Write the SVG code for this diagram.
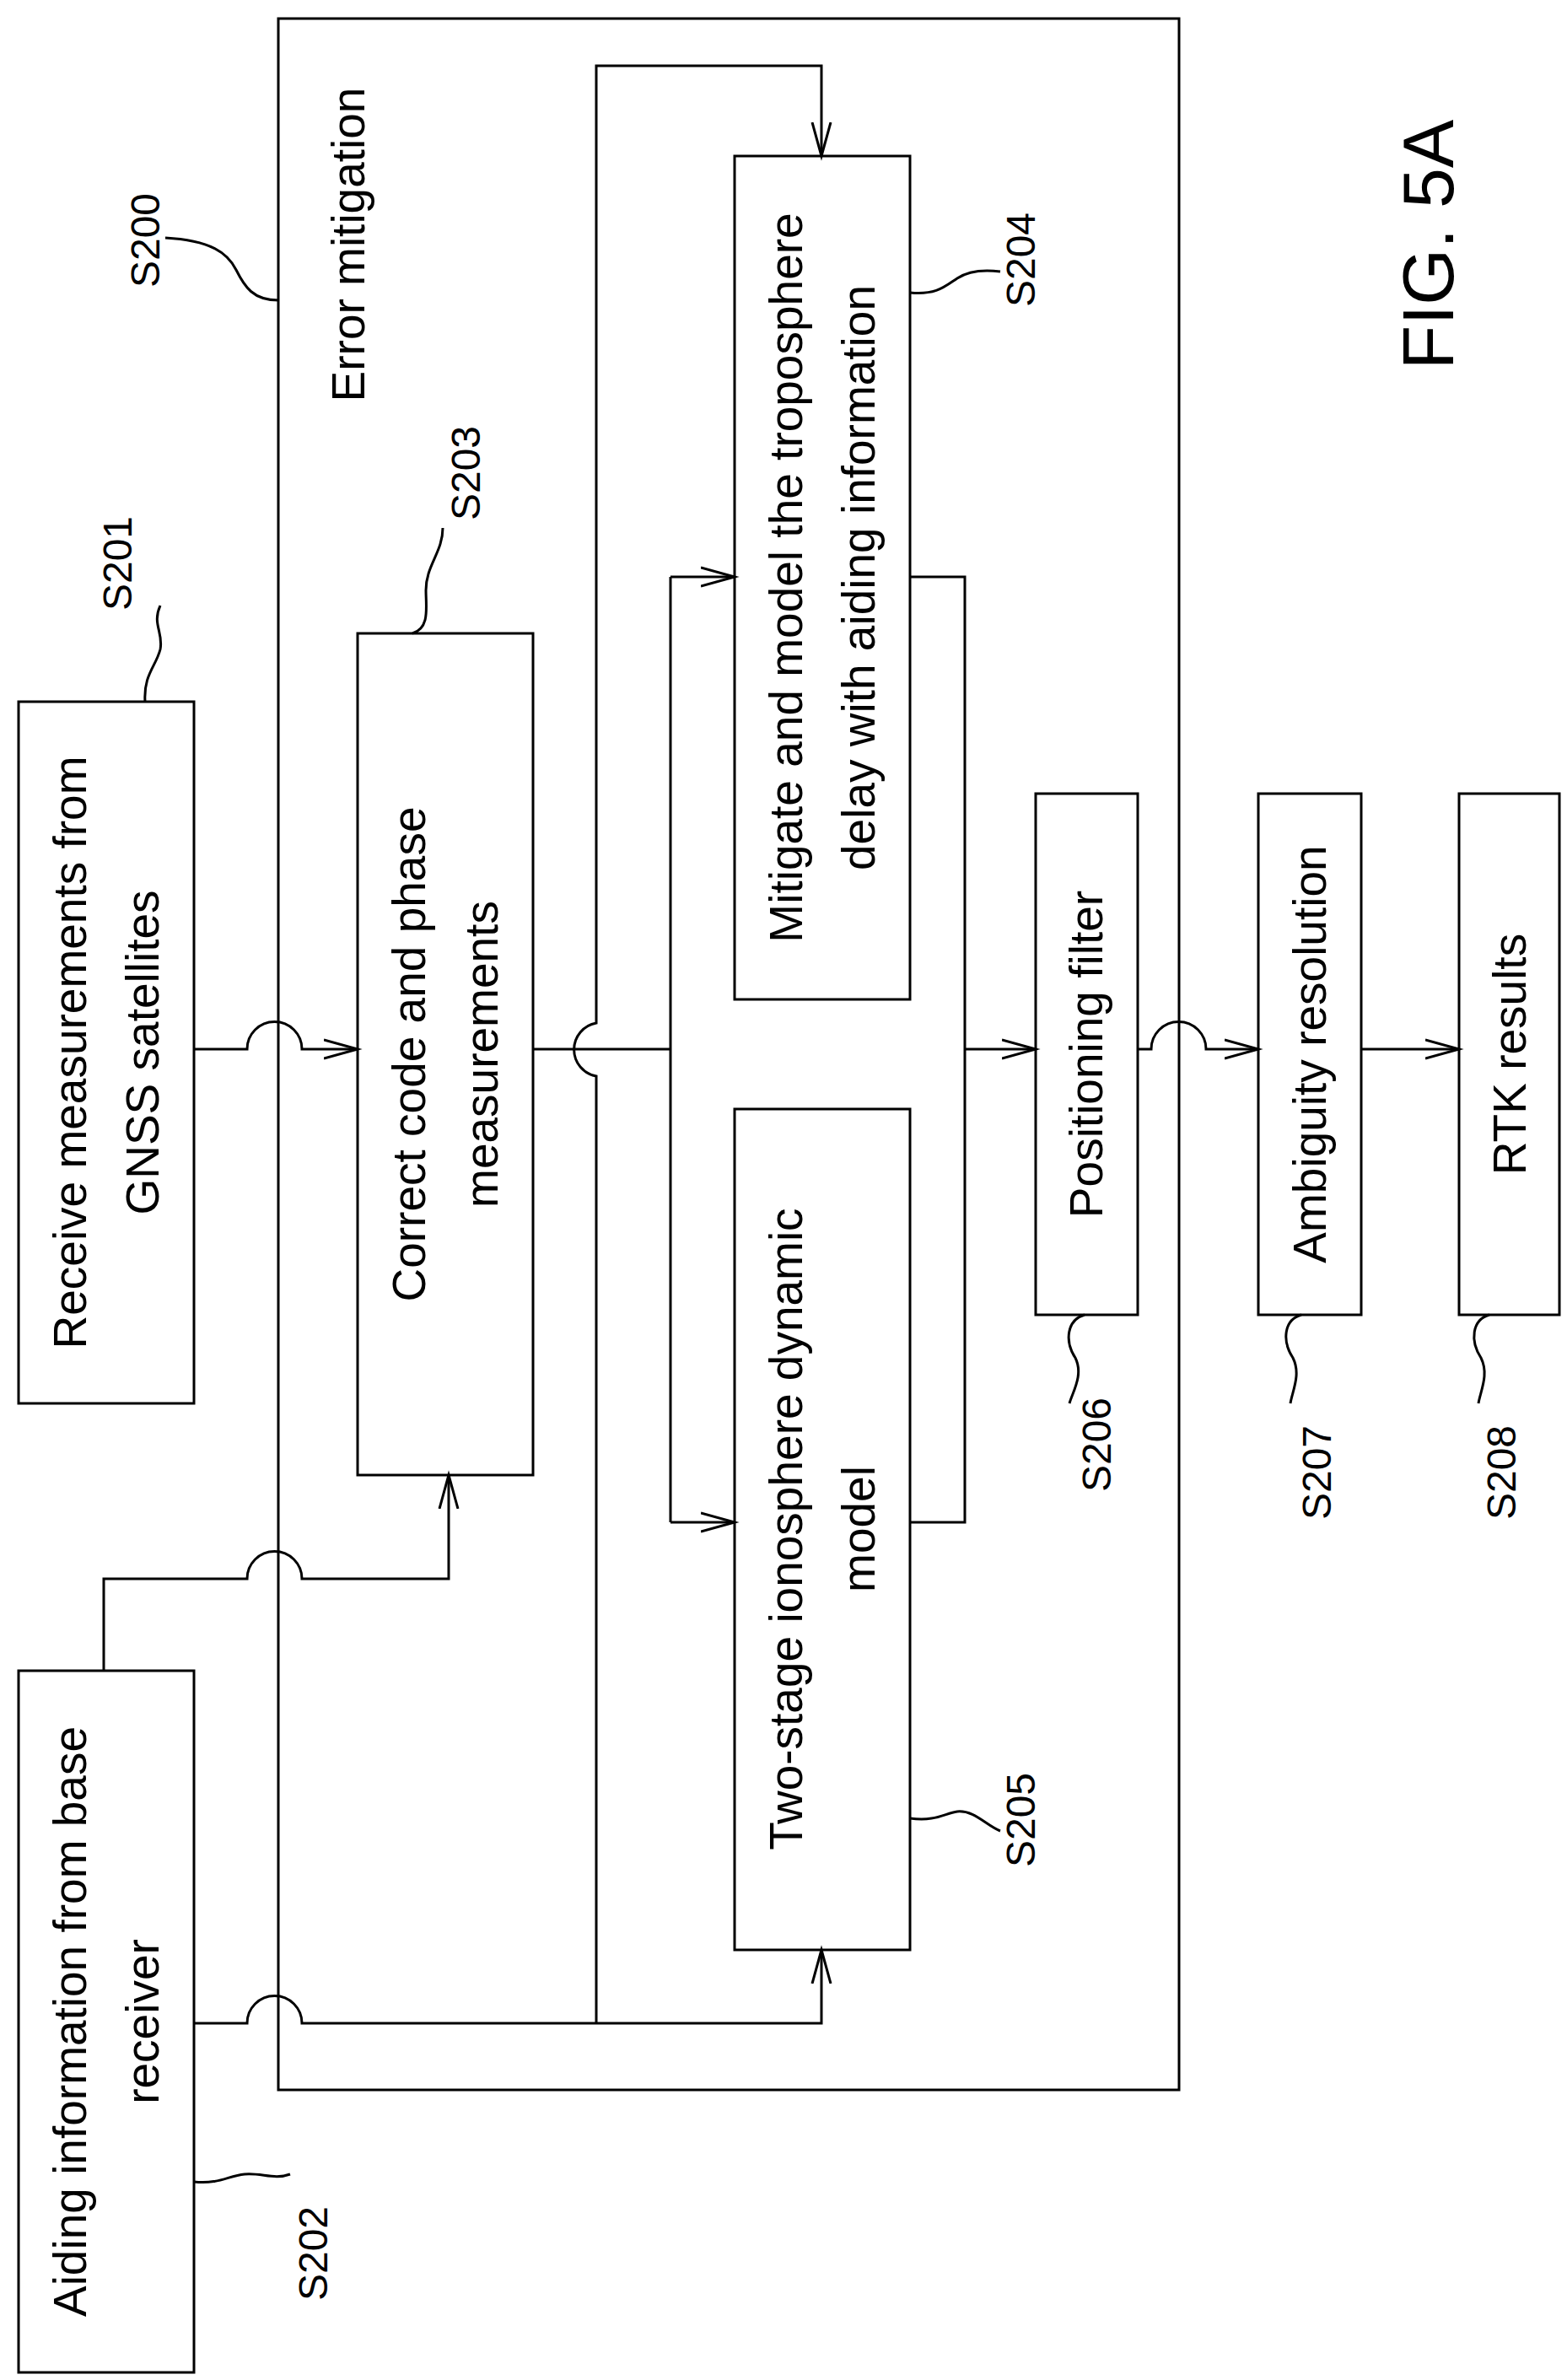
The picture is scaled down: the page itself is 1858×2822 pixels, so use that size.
<svg xmlns="http://www.w3.org/2000/svg" width="1858" height="2822" viewBox="0 0 1858 2822">
<style>
rect,path,line{fill:none;stroke:#000;stroke-width:3}
text{font-family:"Liberation Sans",Arial,sans-serif;font-size:55px;text-anchor:middle;dominant-baseline:central;fill:#000}
.lb{font-size:48px}
</style>
<defs>
<marker id="a" markerUnits="userSpaceOnUse" markerWidth="50" markerHeight="30" refX="40" refY="12" orient="auto" viewBox="0 0 50 24">
<path d="M0,1 L40,12 L0,23" style="stroke-width:3"/>
</marker>
</defs>
<rect width="1858" height="2822" style="fill:#fff;stroke:none"/>
<g id="S200"><rect x="330" y="22" width="1068" height="2456"/>
<text transform="translate(413,290) rotate(-90)">Error mitigation</text></g>
<g id="S201"><rect x="22" y="832" width="208" height="832"/>
<text transform="translate(126,1248) rotate(-90)"><tspan x="0" y="-43">Receive measurements from</tspan><tspan x="0" y="43">GNSS satellites</tspan></text></g>
<g id="S202"><rect x="22" y="1981" width="208" height="832"/>
<text transform="translate(126,2397) rotate(-90)"><tspan x="0" y="-43">Aiding information from base</tspan><tspan x="0" y="43">receiver</tspan></text></g>
<g id="S203"><rect x="424" y="751" width="208" height="998"/>
<text transform="translate(528,1250) rotate(-90)"><tspan x="0" y="-43">Correct code and phase</tspan><tspan x="0" y="43">measurements</tspan></text></g>
<g id="S204"><rect x="871" y="185" width="208" height="1000"/>
<text transform="translate(975,685) rotate(-90)"><tspan x="0" y="-43">Mitigate and model the troposphere</tspan><tspan x="0" y="43">delay with aiding information</tspan></text></g>
<g id="S205"><rect x="871" y="1315" width="208" height="997"/>
<text transform="translate(975,1813) rotate(-90)"><tspan x="0" y="-43">Two-stage ionosphere dynamic</tspan><tspan x="0" y="43">model</tspan></text></g>
<g id="S206"><rect x="1228" y="941" width="121" height="618"/>
<text transform="translate(1288,1250) rotate(-90)">Positioning filter</text></g>
<g id="S207"><rect x="1492" y="941" width="122" height="618"/>
<text transform="translate(1553,1250) rotate(-90)">Ambiguity resolution</text></g>
<g id="S208"><rect x="1730" y="941" width="119" height="618"/>
<text transform="translate(1790,1250) rotate(-90)">RTK results</text></g>
<g id="labels">
<text class="lb" transform="translate(172,285) rotate(-90)">S200</text>
<path d="M330,356 C300,356 290,340 280,320 C270,300 250,285 196,282"/>
<text class="lb" transform="translate(139,668) rotate(-90)">S201</text>
<path d="M172,832 C170,800 185,790 190,770 C194,750 180,740 190,718"/>
<text class="lb" transform="translate(371,2672) rotate(-90)">S202</text>
<path d="M230,2587 C260,2590 270,2580 290,2578 C310,2576 325,2585 344,2578"/>
<text class="lb" transform="translate(552,561) rotate(-90)">S203</text>
<path d="M489,751 C510,745 505,720 505,700 C505,670 525,655 525,626"/>
<text class="lb" transform="translate(1210,308) rotate(-90)">S204</text>
<path d="M1079,347 C1110,350 1120,340 1135,330 C1150,320 1170,320 1186,322"/>
<text class="lb" transform="translate(1210,2158) rotate(-90)">S205</text>
<path d="M1079,2156 C1110,2160 1120,2150 1135,2148 C1155,2146 1170,2165 1186,2171"/>
<text class="lb" transform="translate(1300,1713) rotate(-90)">S206</text>
<path d="M1286,1559 C1265,1565 1262,1590 1275,1610 C1285,1630 1272,1650 1268,1664"/>
<text class="lb" transform="translate(1561,1746) rotate(-90)">S207</text>
<path d="M1543,1559 C1522,1565 1520,1590 1533,1610 C1543,1630 1532,1650 1530,1664"/>
<text class="lb" transform="translate(1780,1746) rotate(-90)">S208</text>
<path d="M1766,1559 C1745,1565 1743,1590 1756,1610 C1766,1630 1755,1650 1753,1664"/>
<text style="font-size:86px" transform="translate(1693,290) rotate(-90)">FIG. 5A</text>
</g>
<g id="connectors">
<path d="M230,1244 H293 A32,32 0 0 1 358,1244 H424" marker-end="url(#a)"/>
<path d="M632,1244 H795"/>
<path d="M707,2399 V1276 A32,32 0 0 1 707,1213 V78 H974 V185" marker-end="url(#a)"/>
<path d="M230,2399 H293 A32,32 0 0 1 358,2399 H974 V2312" marker-end="url(#a)"/>
<path d="M795,684 V1805"/>
<path d="M795,684 H871" marker-end="url(#a)"/>
<path d="M795,1805 H871" marker-end="url(#a)"/>
<path d="M1079,684 H1144 V1805 H1079"/>
<path d="M1144,1244 H1228" marker-end="url(#a)"/>
<path d="M1349,1244 H1365 A32,32 0 0 1 1430,1244 H1492" marker-end="url(#a)"/>
<path d="M1614,1244 H1730" marker-end="url(#a)"/>
<path d="M123,1981 V1872 H293 A32,32 0 0 1 358,1872 H532 V1749" marker-end="url(#a)"/>
</g>
</svg>
